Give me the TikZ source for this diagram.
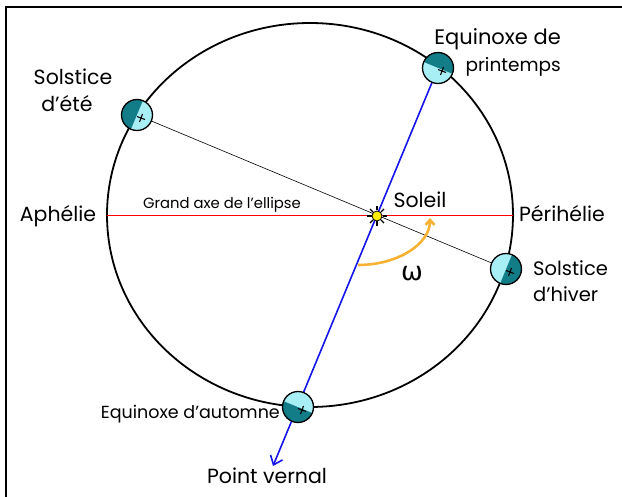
\documentclass[tikz,border=0pt]{standalone}
\usepackage{fontspec}
\setmainfont{Poppins}
\newfontfamily\greekfont{DejaVu Sans}
\usetikzlibrary{arrows.meta,calc}

\definecolor{litside}{RGB}{168,238,245}
\definecolor{darkside}{RGB}{18,124,135}
\definecolor{anglecol}{RGB}{247,178,52}
\definecolor{sunfill}{RGB}{255,240,0}
\definecolor{vernal}{RGB}{20,20,235}
\definecolor{axiscol}{RGB}{255,0,0}

% Earth disc: dark disc, the half facing the Sun lit, outline and a small cross
\newcommand\earthdisc[1]{%
  \fill[darkside] (#1) circle (15.5);
  \begin{scope}
    \clip (#1) circle (15.5);
    \fill[litside] ($(#1)!25pt!90:(sun)$) -- ($(#1)!25pt!45:(sun)$)
      -- ($(#1)!25pt!0:(sun)$) -- ($(#1)!25pt!-45:(sun)$)
      -- ($(#1)!25pt!-90:(sun)$) -- cycle;
  \end{scope}
  \draw[line width=1.3pt] (#1) circle (15.5);
  \draw[line width=1.1pt] ($(#1)+(0,1.5)$) -- ($(#1)+(8,4.5)$)
    ($(#1)+(5.5,-1)$) -- ($(#1)+(2.5,7)$);
}

\begin{document}
\begin{tikzpicture}[x=1pt,y=-1pt,
  lbl/.style={inner sep=0pt, font=\fontsize{#1}{#1}\selectfont},
  lbl/.default=20.5,
  spot/.style={circle, inner sep=0pt, minimum size=31pt},
  orbit/.style={line width=1.8pt},
  majoraxis/.style={draw=axiscol, line width=1.1pt},
  solstices/.style={line width=0.6pt},
  equinoxes/.style={color=vernal, line width=1.6pt, -{Straight Barb[length=8pt,width=13pt]}},
  omegaarc/.style={color=anglecol, line width=2.6pt, -{Straight Barb[length=5pt,width=9pt]}}]
\useasboundingbox (0,0) rectangle (622,497);

% frame
\draw[line width=2pt] (622,7.5) -- (6,7.5) -- (6,497);

% orbit
\draw[orbit] (310,215) ellipse [x radius=203, y radius=192];

% positions
\node[circle, inner sep=0pt, minimum size=10pt] (sun) at (377,216) {};
\node[spot] (ete) at (137,115) {};
\node[spot] (hiver) at (506,269) {};
\node[spot] (printemps) at (438,68) {};
\node[spot] (automne) at (298,407) {};
\coordinate (aphelie) at (107,215.5);
\coordinate (perihelie) at (513,215.5);
\coordinate (pv) at (273,466);

% major axis, solstice line and equinox line
\draw[majoraxis] (aphelie) -- (perihelie);
\draw[solstices] (ete) -- (hiver);
\draw[equinoxes] (printemps) -- (pv);

% angle omega
\draw[omegaarc] (358,265) arc[start angle=90, end angle=0, x radius=72, y radius=47];

% Sun
\foreach \a in {0,45,...,315}
  \draw[line width=1.1pt] ($(sun)+(\a:5.5)$) -- ($(sun)+(\a:10)$);
\draw[fill=sunfill, line width=0.8pt] (sun.center) circle (5);

% Earth positions
\earthdisc{ete}
\earthdisc{hiver}
\earthdisc{printemps}
\earthdisc{automne}

% labels
\node[lbl=21, anchor=base east] (l1) at (561,45) {Equinoxe de};
\node[lbl=18.5, anchor=base east] (l2) at (561,72) {printemps};
\node[lbl, anchor=base] (l3) at (73,85) {Solstice};
\node[lbl, anchor=base] (l4) at (67,112) {d'été};
\node[lbl, anchor=base] (l5) at (58,222) {Aphélie};
\node[lbl, anchor=base] (l6) at (562,222) {Périhélie};
\node[lbl, anchor=base] (l7) at (420,208) {Soleil};
\node[lbl=19.5, anchor=base west] (l8) at (533,276) {Solstice};
\node[lbl=19.5, anchor=base west] (l9) at (533,302) {d'hiver};
\node[lbl=17.5, anchor=base east] (l10) at (280,419) {Equinoxe d'automne};
\node[lbl, anchor=base] (l11) at (267,483) {Point vernal};
\node[lbl=14.8, anchor=base] (l12) at (222,209) {Grand axe de l'ellipse};
\node[inner sep=0pt, anchor=base, font=\greekfont\fontsize{26}{30}\selectfont] (l13) at (412,281) {ω};
\end{tikzpicture}
\end{document}
